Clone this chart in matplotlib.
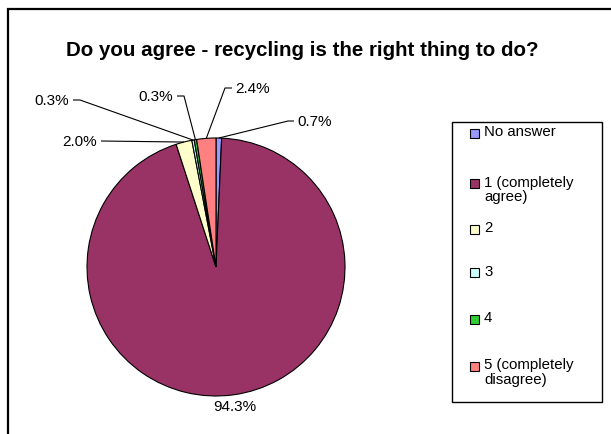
import matplotlib.pyplot as plt
import numpy as np
from matplotlib.patches import Rectangle

plt.rcParams['font.family'] = ['Liberation Sans', 'DejaVu Sans']

##### data #####
categories = ['No answer', '1 (completely\nagree)', '2', '3', '4', '5 (completely\ndisagree)']
shares = [0.7, 94.3, 2.0, 0.3, 0.3, 2.4]
colors = ['#9999FF', '#993366', '#FFFFCC', '#CCFFFF', '#33CC33', '#FF8080']
title = 'Do you agree - recycling is the right thing to do?'

W, H = 611, 435
fig = plt.figure(figsize=(W / 100, H / 100), dpi=100)
# one axes over the whole figure, 1 unit = 1 pixel, y measured from the bottom
ax = fig.add_axes([0, 0, 1, 1])

def Y(py):
    return H - py

cx, cy, r = 216, Y(268), 129
wedges, _ = ax.pie(shares, colors=colors, startangle=90, counterclock=False,
                   center=(cx, cy), radius=r,
                   wedgeprops=dict(edgecolor='black', linewidth=0.8))
ax.set_xlim(0, W)
ax.set_ylim(0, H)
ax.set_aspect('equal')
ax.axis('off')

def edge_point(w, k=1.0):
    a = np.deg2rad((w.theta1 + w.theta2) / 2)
    return cx + k * r * np.cos(a), cy + k * r * np.sin(a)

# leader layout for the small slices: (elbow, end of line, text x, text y, ha)
leaders = {
    0: ((288, 122), (294, 122), 297, 122, 'left'),
    2: ((101, 142), (101, 142), 97, 142, 'right'),
    3: ((80, 101), (73, 101), 69, 101, 'right'),
    4: ((184, 97), (177, 97), 173, 97, 'right'),
    5: ((225, 89), (232, 89), 235, 89, 'left'),
}
for i, (elbow, end, tx, ty, ha) in leaders.items():
    sx, sy = edge_point(wedges[i])
    ax.plot([sx, elbow[0], end[0]], [sy, Y(elbow[1]), Y(end[1])],
            color='black', lw=0.8, solid_capstyle='butt')
    ax.text(tx, Y(ty), f'{shares[i]:.1f}%', ha=ha, va='center', fontsize=11)

# big slice label sits just outside its mid angle
bx, by = edge_point(wedges[1], 1.085)
ax.text(bx, by, f'{shares[1]:.1f}%', ha='center', va='center', fontsize=11)

ax.text(302, Y(51), title, ha='center', va='center', fontsize=14.8, fontweight='bold')

# legend box drawn by hand, Excel style
ax.add_patch(Rectangle((452, Y(403)), 150, 280, facecolor='white', edgecolor='black', lw=1))
leg_y = [134, 184, 230, 273, 320, 367]
for name, col, ly in zip(categories, colors, leg_y):
    ax.add_patch(Rectangle((470, Y(ly) - 4.5), 9, 9, facecolor=col, edgecolor='black', lw=0.8))
    ax.text(484, Y(ly) + 8.5, name, ha='left', va='top', fontsize=10.8, linespacing=1.05)

# chart area frame, cropped by the picture on the right and bottom
ax.add_patch(Rectangle((8, -20), 700, Y(10) + 20, facecolor='none', edgecolor='black', lw=1.6))

fig.savefig('out.png', dpi=100)
